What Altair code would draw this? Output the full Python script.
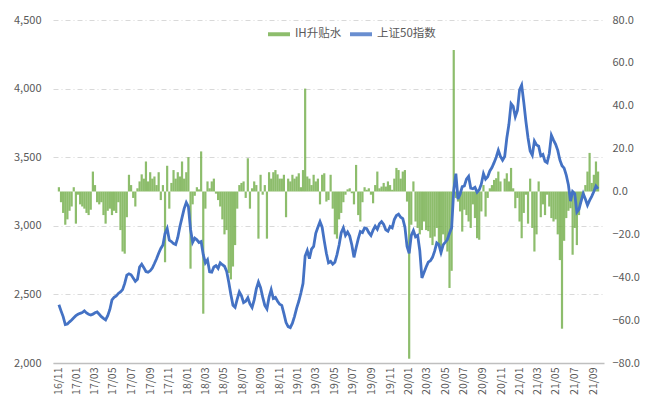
import altair as alt
import pandas as pd

# 上证50指数 (weekly readings)
sse50 = [
    2424, 2380, 2338, 2280, 2285, 2300, 2314, 2330, 2345, 2355,
    2362, 2368, 2380, 2365, 2355, 2350, 2356, 2366, 2372, 2355,
    2338, 2325, 2314, 2345, 2390, 2460, 2478, 2488, 2507, 2518,
    2535, 2580, 2640, 2650, 2643, 2620, 2595, 2610, 2700, 2720,
    2695, 2667, 2662, 2672, 2692, 2725, 2760, 2800, 2835, 2860,
    2945, 2980, 2895, 2885, 2870, 2863, 2915, 2995, 3060, 3125,
    3170, 3140, 2975, 2880, 2910, 2898, 2878, 2885, 2790, 2730,
    2752, 2665, 2662, 2700, 2710, 2690, 2730, 2716, 2705, 2670,
    2590, 2500, 2420, 2405, 2465, 2518, 2490, 2440, 2450, 2475,
    2430, 2405, 2460, 2540, 2590, 2550, 2480, 2420, 2395, 2480,
    2534, 2470, 2478, 2450, 2428, 2420, 2360, 2295, 2265, 2258,
    2290, 2340, 2400, 2450, 2510, 2580, 2780, 2820, 2760, 2830,
    2850, 2945, 2990, 3030, 2990, 2890, 2800, 2730, 2740, 2720,
    2735, 2790, 2860, 2950, 2985, 2930, 2955, 2925, 2860, 2770,
    2840, 2905, 2958, 2950, 2985, 2980, 2950, 2930, 2968, 2997,
    2975, 3015, 3030, 3010, 2970, 2960, 2995, 2985, 3045, 3075,
    3085, 3062, 3052, 2990, 2850, 2800, 2930, 2965, 2920, 2930,
    2820, 2620, 2660, 2700, 2735, 2745, 2770, 2815, 2875, 2863,
    2805, 2860, 2880, 2900, 2945, 2985, 3260, 3380, 3195, 3230,
    3285, 3290, 3340, 3360, 3275, 3270, 3280, 3245, 3262, 3305,
    3380, 3340, 3358, 3400, 3425, 3460, 3500, 3550, 3505, 3478,
    3505, 3640, 3740, 3890, 3870, 3795, 3840, 3990, 4025, 3900,
    3760, 3640, 3545, 3515, 3618, 3590, 3580, 3510, 3520, 3470,
    3460, 3525, 3660, 3625, 3594, 3550, 3480, 3438, 3420, 3370,
    3300, 3180, 3250, 3235, 3100, 3120, 3180, 3235, 3195, 3150,
    3185, 3215, 3250, 3290, 3270,
]

# IH升贴水 (weekly readings)
ih_basis = [
    2, -5, -10, -15.5, -13, -9, -7, 2, -15, -1.5,
    -6, -7, -8, -10, -11, -8.5, 9.3, 3, -5, -6,
    -5, -11, -15, -9, -8, -11, -9, -10, -5, -18,
    -28, -29, -12, 7.8, 3, -3, -7, 1.5, 4.7, 8,
    6, 14, 4.7, 9, 6, 7, 3, 9, -4, 3,
    -33, 12, -8, 4, 10, 6, 9, 7, 14, 6,
    9, 16, -36, -6, -2, 2, 1, 18.7, -57, -8,
    4.7, 1.5, 4.7, 6, -1, -4, -7, -13, -20, -18,
    -38, -41, -35, -25, -8, 3, 4, 4.7, -3, 15.5,
    -8, 1.5, 4.7, 3, -22, 7.8, -1.5, 3, -22, 9,
    6, 9, 10, 8, 6, 6, 7.8, -12, 6, 4.7,
    7.8, 6, 7, 8.5, 2, 10, 48, 7, 6, 3,
    7.8, 4.7, 6, -6, 7.8, 8.5, -4.7, -4, 7.8, -8,
    -20, -22, -13, -10, -5, -1.5, 1, 1.5, -0.8, -6,
    12.4, -11, -14, -5, 2, 0.8, 1.5, -1.5, -5.5, 3,
    9.3, 1.5, 2.3, 4, 2.3, 4.7, 3, 0.8, 6, 11,
    10, 6, 9.3, 10, -4.7, -78, -15.5, 4.7, -14, -17,
    -20, -18, -14, -18, -18.5, -21.6, -25, -21, -17, -25,
    -29.5, -20, -23, -28, -45, -37, 66, -3, -4.7, -9.3,
    -18.7, -8.5, -11, -14, -17, -6, -12.4, -21.8, -22.5, -9.3,
    3, -11.7, -3, 1.5, 3, 5.4, 6.2, 9.3, 4.7, 0,
    6, 8.5, 4.7, 11, 1.5, -7.8, -3, -14, -21.8, -10,
    -1.5, -15, 6, -17, -28, -20, 4.7, -12, -6, -11,
    -1.5, -7, -12.4, -14, -13, -20, -32, -64, -23, -12.4,
    -9, -7.8, -29.5, -17, -25, -11, -4.7, -1.5, 3, 9.3,
    18, 4, 7.8, 14, 9.3,
]

series_names = ["IH升贴水", "上证50指数"]
series_colors = ["#70AD47", "#4472C4"]

dates = pd.date_range("2016-11-04", periods=len(sse50), freq="7D")
df = pd.DataFrame({"date": dates, "sse50": sse50, "basis": ih_basis})

# tick label months (every two months, 16/11 ... 21/09)
tick_months = []
y, m = 2016, 11
while (y, m) <= (2021, 9):
    tick_months.append(alt.DateTime(year=y, month=m, date=1))
    m += 2
    if m > 12:
        m -= 12
        y += 1

FONT = "Noto Sans CJK SC"
GREY = "#595959"

x_enc = alt.X(
    "date:T",
    scale=alt.Scale(
        domain=[alt.DateTime(year=2016, month=11, date=1),
                alt.DateTime(year=2021, month=9, date=20)],
        nice=False,
    ),
    axis=alt.Axis(
        values=tick_months, format="%y/%m", labelAngle=-90, title=None,
        grid=False, ticks=False, domainColor="#BFBFBF", domainWidth=1.5,
        labelColor=GREY, labelFontSize=10.5, labelPadding=4, labelFont=FONT,
        labelOverlap=False,
    ),
)

color_enc = alt.Color(
    "series:N",
    scale=alt.Scale(domain=series_names, range=series_colors),
    legend=alt.Legend(
        title=None, orient="none", legendX=215, legendY=3,
        direction="horizontal",
        symbolType="M-1,-0.18H1V0.18H-1Z", symbolSize=484,
        symbolStrokeWidth=0,
        labelFont=FONT, labelFontSize=11.5, labelColor=GREY,
        labelOffset=5, columnPadding=8,
    ),
)

bars = alt.Chart(df).transform_calculate(
    series="'" + series_names[0] + "'"
).mark_bar(size=2.2, opacity=0.8).encode(
    x=x_enc,
    y=alt.Y(
        "basis:Q",
        scale=alt.Scale(domain=[-80, 80], nice=False, zero=True),
        axis=alt.Axis(
            orient="right", values=list(range(-80, 81, 20)), format=".1f",
            grid=False, domain=False, ticks=False, title=None,
            labelColor=GREY, labelFontSize=11, labelPadding=8, labelFont=FONT,
        ),
    ),
    color=color_enc,
)

line = alt.Chart(df).transform_calculate(
    series="'" + series_names[1] + "'"
).mark_line(strokeWidth=2.8).encode(
    x=x_enc,
    y=alt.Y(
        "sse50:Q",
        scale=alt.Scale(domain=[2000, 4500], nice=False, zero=False),
        axis=alt.Axis(
            orient="left", values=list(range(2000, 4501, 500)), format=",.0f",
            grid=True, gridColor="#D9D9D9", gridDash=[5, 3, 1, 3],
            domain=False, ticks=False, title=None,
            labelColor=GREY, labelFontSize=11, labelPadding=12, labelFont=FONT,
        ),
    ),
    color=color_enc,
)

chart = (
    alt.layer(bars, line)
    .resolve_scale(y="independent")
    .properties(
        width=551, height=343,
        autosize=alt.AutoSizeParams(type="none"),
        padding={"left": 45, "top": 12, "right": 38, "bottom": 32},
    )
    .configure_view(stroke=None)
)

chart.save("out.html", embed_options={"renderer": "svg", "actions": False})
